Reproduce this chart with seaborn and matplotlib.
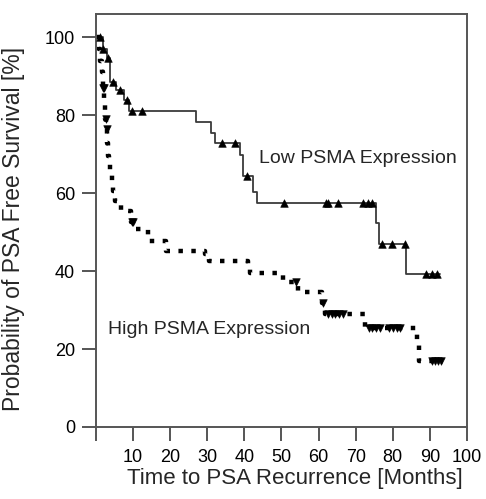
import numpy as np
import pandas as pd
import matplotlib
matplotlib.use("Agg")
import matplotlib.pyplot as plt
import seaborn as sns

# ---------------------------------------------
# Data
# ---------------------------------------------
# Low PSMA expression: time of each drop (months) and survival after it (%)
low_times = [0, 1.8, 3.0, 3.8, 5.5, 7.5, 9.0, 27.0, 31.0, 32.0, 38.8, 39.6,
             42.3, 43.4, 75.5, 76.3, 83.5, 92.7]
low_surv = [100, 97, 94.6, 88.6, 86.5, 84, 81, 78.3, 75.4, 72.8, 69.7, 64.3,
            60.4, 57.5, 52.4, 47, 39.2, 39.2]
low_censor = [1.2, 1.9, 3.2, 4.6, 6.5, 8.4, 9.7, 12.4, 34.0, 37.5, 40.6, 50.7,
              62.0, 62.6, 65.3, 72.0, 73.3, 74.4, 77.0, 79.8, 83.2, 89.0,
              90.5, 91.9]

# High PSMA expression
high_times = [0, 0.8, 1.2, 1.5, 1.8, 2.2, 2.5, 2.8, 3.0, 3.2, 3.5, 3.8, 4.2,
              4.5, 5.0, 6.8, 9.5, 10.0, 14.0, 19.0, 29.5, 30.5, 41.0, 41.5,
              50.5, 54.5, 61.0, 61.8, 72.5, 86.5, 87.0, 93.5]
high_surv = [100, 97, 94, 91, 87, 83, 79, 76.5, 73, 69.5, 67.5, 65.5, 63,
             60.5, 58, 55.5, 52.6, 50.8, 47.7, 45.2, 44.4, 42.6, 41.8, 39.6,
             37.3, 34.6, 31.7, 28.9, 25.3, 21.5, 17, 17]
high_censor = [1.9, 2.1, 2.6, 2.9, 9.6, 9.9, 53.9, 61.3, 62.5, 63.5, 64.5,
               65.5, 66.5, 73.5, 74.5, 75.5, 76.5, 79.0, 80.0, 81.0, 82.0,
               90.7, 91.5, 92.3, 93.0]


def step_value(times, surv, t):
    idx = np.searchsorted(times, t, side="right") - 1
    return np.asarray(surv)[idx]


low_df = pd.DataFrame({"time": low_times, "surv": low_surv})
high_df = pd.DataFrame({"time": high_times, "surv": high_surv})
low_c = pd.DataFrame({"time": low_censor,
                      "surv": step_value(low_times, low_surv, low_censor)})
high_c = pd.DataFrame({"time": high_censor,
                       "surv": step_value(high_times, high_surv, high_censor)})

# ---------------------------------------------
# Plot
# ---------------------------------------------
sns.set_style("white")
plt.rcParams["font.family"] = ["Liberation Sans", "DejaVu Sans"]

fig = plt.figure(figsize=(4.86, 4.99), dpi=100)
ax = fig.add_axes([0.1975, 0.1443, 0.7634, 0.8277])

sns.lineplot(data=low_df, x="time", y="surv", ax=ax, drawstyle="steps-post",
             estimator=None, sort=False, color="#3a3a3a", linewidth=1.3)
sns.lineplot(data=high_df, x="time", y="surv", ax=ax,
             drawstyle="steps-post", estimator=None, sort=False,
             color="black", linewidth=3.2)
ax.lines[-1].set_linestyle((0, (1.0, 1.9)))
ax.lines[-1].set_dash_capstyle("butt")

sns.scatterplot(data=low_c, x="time", y="surv", ax=ax, marker="^", s=30,
                color="black", edgecolor="black", linewidth=0.4, zorder=5)
sns.scatterplot(data=high_c, x="time", y="surv", ax=ax, marker="v", s=30,
                color="black", edgecolor="black", linewidth=0.4, zorder=5)

ax.text(44, 69, "Low PSMA Expression", fontsize=14, va="center")
ax.text(3.2, 25, "High PSMA Expression", fontsize=14, va="center")

ax.set_xlim(0, 100)
ax.set_ylim(0, 106)
ax.set_xticks(range(0, 101, 10))
ax.set_xticklabels([""] + [str(v) for v in range(10, 101, 10)])
ax.set_yticks(range(0, 101, 20))

for s in ax.spines.values():
    s.set_visible(True)
    s.set_color("#555555")
    s.set_linewidth(1.4)
ax.tick_params(direction="out", length=10, width=1.4, color="#555555",
               labelsize=13, labelcolor="black", bottom=True, left=True)
ax.tick_params(axis="x", pad=6)
ax.tick_params(axis="y", pad=5)

ax.set_xlabel("Time to PSA Recurrence [Months]", fontsize=16)
ax.set_ylabel("Probability of PSA Free Survival [%]", fontsize=16.5)
ax.xaxis.set_label_coords(0.535, -0.1)
ax.yaxis.set_label_coords(-0.19, 0.48)

fig.savefig("out.png", dpi=100)
